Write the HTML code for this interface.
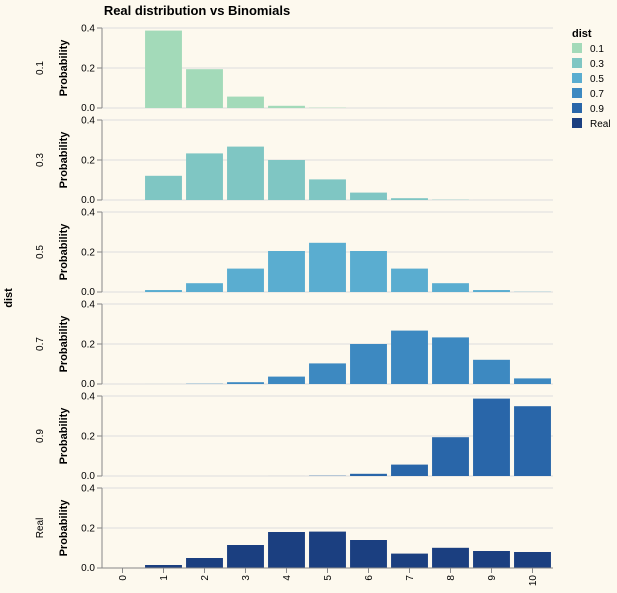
<!DOCTYPE html>
<html><head><meta charset="utf-8">
<style>
body{margin:0;background:#fdf9ee;}
svg{display:block;font-family:"Liberation Sans",sans-serif;}
</style></head>
<body>
<svg id="chart" width="617" height="593"></svg>
<script>
const categories = [0,1,2,3,4,5,6,7,8,9,10];
const rowLabels = ["0.1","0.3","0.5","0.7","0.9","Real"];
const colors = ["#a3dab9","#7fc6c3","#5aadd0","#3d89c1","#2966a9","#1b3f80"];
const p01 = [null,0.387,0.194,0.057,0.011,0.0015,0.0001,0,0,0,0];
const p03 = [null,0.121,0.233,0.267,0.200,0.103,0.037,0.009,0.0014,0.0001,0];
const p05 = [null,0.0098,0.044,0.117,0.205,0.246,0.205,0.117,0.044,0.0098,0.001];
const p07 = [null,0.0001,0.0014,0.009,0.037,0.103,0.200,0.267,0.233,0.121,0.028];
const p09 = [null,0,0,0,0.0001,0.0015,0.011,0.057,0.194,0.387,0.349];
const real = [0.002,0.015,0.05,0.115,0.18,0.182,0.14,0.072,0.101,0.085,0.08];
const series = [p01,p03,p05,p07,p09,real];
const yTicks = [0,0.2,0.4];

const svg = document.getElementById('chart');
const NS = 'http://www.w3.org/2000/svg';
function mk(tag, attrs, parent){const e=document.createElementNS(NS,tag);for(const k in attrs)e.setAttribute(k,attrs[k]);(parent||svg).appendChild(e);return e;}
const X0=102, X1=553, bw=(X1-X0)/categories.length, H=80, yMax=0.4;
function xPos(i){return X0+i*bw;}
function yPos(v,top){return top+H-(v/yMax)*H;}

const title = mk('text',{x:197,y:15,'text-anchor':'middle','font-size':13,'font-weight':'bold',fill:'#000'});
title.textContent='Real distribution vs Binomials';



const dl = mk('text',{transform:'translate(12,298) rotate(-90)','text-anchor':'middle','font-size':11,'font-weight':'bold'});
dl.textContent='dist';



series.forEach((vals,r)=>{
  const top=28+r*92;
  const g=mk('g',{});
  
  
  yTicks.forEach(t=>{
    const y=yPos(t,top);
    mk('line',{x1:X0,x2:X1,y1:y,y2:y,stroke:'#ddd','stroke-width':1},g);
    mk('line',{x1:X0-5,x2:X0,y1:y,y2:y,stroke:'#888'},g);
    const tx=mk('text',{x:X0-7,y:y+(t===0?3:3.5),'text-anchor':'end','font-size':10,fill:'#000'},g);
    tx.textContent=t.toFixed(1);
    
    
  });
  vals.forEach((v,i)=>{
    if(v===null) return;
    const y=yPos(v,top);
    const b=mk('rect',{x:xPos(i)+bw*0.05,y:y,width:bw*0.9,height:Math.max(top+H-y,0),fill:(r===5&&i===0)?'#d8d8d8':colors[r]},g);
    
    
  });
  mk('line',{x1:X0,x2:X0,y1:top,y2:top+H,stroke:'#888'},g);
  const yl=mk('text',{transform:`translate(67,${top+H/2}) rotate(-90)`,'text-anchor':'middle','font-size':11,'font-weight':'bold'},g);
  yl.textContent='Probability';
  
  
  const rl=mk('text',{transform:`translate(43,${top+H/2}) rotate(-90)`,'text-anchor':'middle','font-size':10},g);
  rl.textContent=rowLabels[r];
  
  
});

const bottom=28+5*92+H;
mk('line',{x1:X0,x2:X1,y1:bottom,y2:bottom,stroke:'#888'});
categories.forEach((c,i)=>{
  const cx=xPos(i)+bw/2;
  mk('line',{x1:cx,x2:cx,y1:bottom,y2:bottom+5,stroke:'#888'});
  const t=mk('text',{transform:`translate(${cx+3.5},${bottom+7}) rotate(-90)`,'text-anchor':'end','font-size':10});
  t.textContent=c;
  
  
});

const lg=mk('g',{});


const lt=mk('text',{x:572,y:37,'font-size':11,'font-weight':'bold'},lg);
lt.textContent='dist';
rowLabels.forEach((l,i)=>{
  const y=43+i*15;
  const r=mk('rect',{x:572,y:y,width:10,height:10,fill:colors[i]},lg);
  
  
  const t=mk('text',{x:590,y:y+9,'font-size':10},lg);
  t.textContent=l;
  
  
});
</script>
</body></html>
